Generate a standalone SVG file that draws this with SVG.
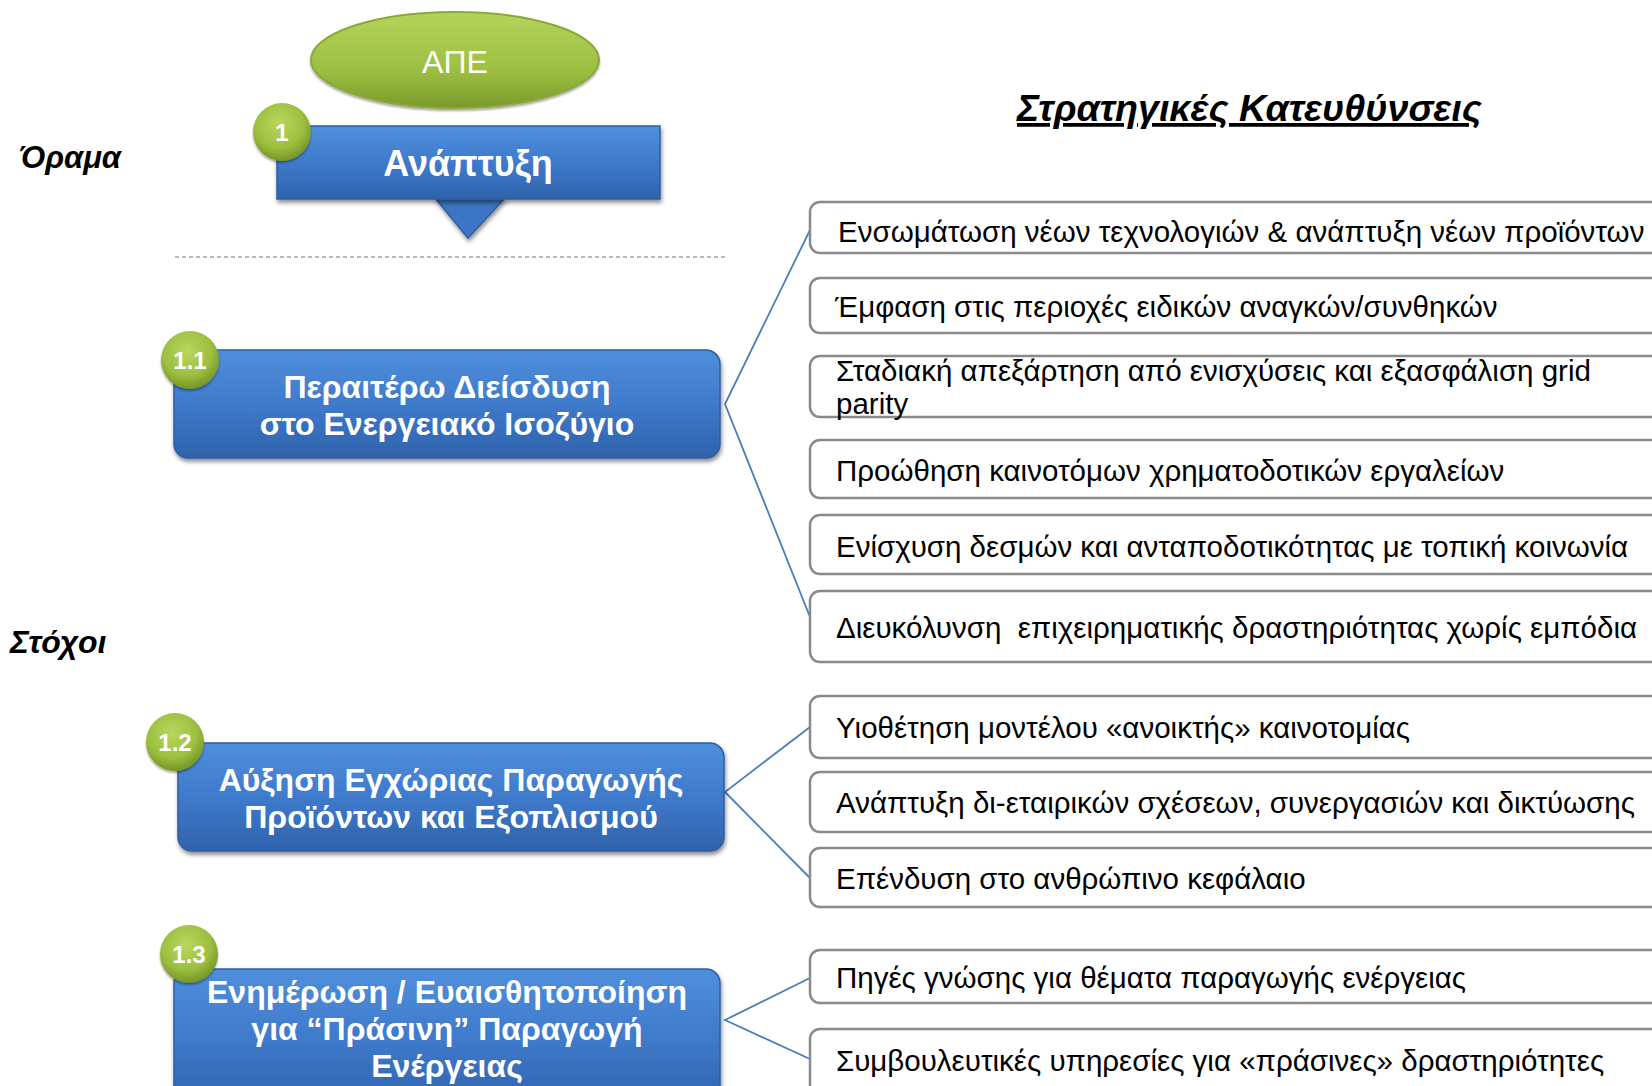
<svg xmlns="http://www.w3.org/2000/svg" width="1652" height="1086" viewBox="0 0 1652 1086">
<style>
.lbl{font-family:"Liberation Sans",Arial,sans-serif;font-weight:bold;font-style:italic;fill:#000}
.btxt{font-family:"Liberation Sans",Arial,sans-serif;font-weight:bold;fill:#fff;text-anchor:middle}
.num{font-family:"Liberation Sans",Arial,sans-serif;font-weight:bold;fill:#fff;font-size:24px;text-anchor:middle}
.rtxt{font-family:"Liberation Sans",Arial,sans-serif;font-size:29.5px;fill:#000}
.rbox{fill:#fff;stroke:#8a8a8a;stroke-width:2.5}
.conn{fill:none;stroke:#4a7ebb;stroke-width:1.8}
</style>
<defs>
<linearGradient id="blue" x1="0" y1="0" x2="0" y2="1">
<stop offset="0" stop-color="#4f8fdc"/>
<stop offset="0.5" stop-color="#3f7acb"/>
<stop offset="1" stop-color="#2f62ab"/>
</linearGradient>
<radialGradient id="green" cx="0.45" cy="0.35" r="0.7">
<stop offset="0" stop-color="#b9d65e"/>
<stop offset="0.6" stop-color="#9cbf3f"/>
<stop offset="1" stop-color="#6e8c22"/>
</radialGradient>
<linearGradient id="greenE" x1="0" y1="0" x2="0" y2="1">
<stop offset="0" stop-color="#b4d35a"/>
<stop offset="0.6" stop-color="#9cc042"/>
<stop offset="1" stop-color="#7a9a2a"/>
</linearGradient>
<filter id="sh" x="-10%" y="-10%" width="120%" height="130%">
<feDropShadow dx="1" dy="3" stdDeviation="2" flood-color="#000" flood-opacity="0.45"/>
</filter>
<filter id="sh2" x="-10%" y="-10%" width="120%" height="130%">
<feDropShadow dx="0" dy="2" stdDeviation="1" flood-color="#000" flood-opacity="0.35"/>
</filter>
</defs>

<text class="lbl" x="19" y="168" font-size="31">Όραμα</text>
<text class="lbl" x="10" y="653" font-size="32">Στόχοι</text>
<text class="lbl" x="1017" y="121" font-size="37.6" text-decoration="underline">Στρατηγικές Κατευθύνσεις</text>
<line x1="175" y1="257" x2="725" y2="257" stroke="#777" stroke-width="1.2" stroke-dasharray="4,3"/>

<g id="connectors">
<polyline class="conn" points="810,230 725,404 810,617"/>
<polyline class="conn" points="810,727 725,792 810,878"/>
<polyline class="conn" points="810,978 725,1020 810,1059"/>
</g>

<g id="ape">
<ellipse cx="455" cy="60" rx="144" ry="48" fill="url(#greenE)" stroke="#8aa83a" stroke-width="2" filter="url(#sh2)"/>
<text x="455" y="73" font-family="Liberation Sans, Arial, sans-serif" font-size="32" fill="#fff" text-anchor="middle">ΑΠΕ</text>
</g>

<g id="node1">
<polygon points="435,198 505,198 468,238" fill="#3a74c4" stroke="#2d5fa3" stroke-width="1.5" filter="url(#sh)"/>
<rect x="277" y="126" width="383" height="73" fill="url(#blue)" stroke="#2d5fa3" stroke-width="1.5" filter="url(#sh)"/>
<text class="btxt" x="468" y="176" font-size="36">Ανάπτυξη</text>
<circle cx="282" cy="132" r="29" fill="url(#green)" filter="url(#sh2)"/>
<text class="num" x="282" y="141">1</text>
</g>

<g id="node11">
<rect x="174" y="350" width="546" height="108" rx="14" fill="url(#blue)" stroke="#2d5fa3" stroke-width="1.5" filter="url(#sh)"/>
<text class="btxt" x="447" y="398" font-size="32">Περαιτέρω Διείσδυση</text>
<text class="btxt" x="447" y="435" font-size="32">στο Ενεργειακό Ισοζύγιο</text>
<circle cx="190" cy="360" r="29" fill="url(#green)" filter="url(#sh2)"/>
<text class="num" x="190" y="369">1.1</text>
</g>

<g id="node12">
<rect x="178" y="743" width="546" height="108" rx="14" fill="url(#blue)" stroke="#2d5fa3" stroke-width="1.5" filter="url(#sh)"/>
<text class="btxt" x="451" y="791" font-size="32">Αύξηση Εγχώριας Παραγωγής</text>
<text class="btxt" x="451" y="828" font-size="32">Προϊόντων και Εξοπλισμού</text>
<circle cx="175" cy="742" r="29" fill="url(#green)" filter="url(#sh2)"/>
<text class="num" x="175" y="751">1.2</text>
</g>

<g id="node13">
<rect x="174" y="969" width="546" height="140" rx="14" fill="url(#blue)" stroke="#2d5fa3" stroke-width="1.5" filter="url(#sh)"/>
<text class="btxt" x="447" y="1003" font-size="32">Ενημέρωση / Ευαισθητοποίηση</text>
<text class="btxt" x="447" y="1040" font-size="32">για “Πράσινη” Παραγωγή</text>
<text class="btxt" x="447" y="1077" font-size="32">Ενέργειας</text>
<circle cx="189" cy="954" r="29" fill="url(#green)" filter="url(#sh2)"/>
<text class="num" x="189" y="963">1.3</text>
</g>

<g id="s1"><rect class="rbox" x="810" y="202" width="900" height="51" rx="10"/><text class="rtxt" x="838" y="242">Ενσωμάτωση νέων τεχνολογιών &amp; ανάπτυξη νέων προϊόντων</text></g>
<g id="s2"><rect class="rbox" x="810" y="278" width="900" height="55" rx="10"/><text class="rtxt" x="835" y="317">Έμφαση στις περιοχές ειδικών αναγκών/συνθηκών</text></g>
<g id="s3"><rect class="rbox" x="810" y="356" width="900" height="61" rx="10"/><text class="rtxt" x="836" y="381">Σταδιακή απεξάρτηση από ενισχύσεις και εξασφάλιση grid</text><text class="rtxt" x="836" y="414">parity</text></g>
<g id="s4"><rect class="rbox" x="810" y="440" width="900" height="58" rx="10"/><text class="rtxt" x="836" y="481">Προώθηση καινοτόμων χρηματοδοτικών εργαλείων</text></g>
<g id="s5"><rect class="rbox" x="810" y="515" width="900" height="59" rx="10"/><text class="rtxt" x="836" y="557">Ενίσχυση δεσμών και ανταποδοτικότητας με τοπική κοινωνία</text></g>
<g id="s6"><rect class="rbox" x="810" y="591" width="900" height="71" rx="10"/><text class="rtxt" x="836" y="638" xml:space="preserve">Διευκόλυνση  επιχειρηματικής δραστηριότητας χωρίς εμπόδια</text></g>
<g id="s7"><rect class="rbox" x="810" y="696" width="900" height="62" rx="10"/><text class="rtxt" x="836" y="738">Υιοθέτηση μοντέλου «ανοικτής» καινοτομίας</text></g>
<g id="s8"><rect class="rbox" x="810" y="772" width="900" height="60" rx="10"/><text class="rtxt" x="836" y="813">Ανάπτυξη δι-εταιρικών σχέσεων, συνεργασιών και δικτύωσης</text></g>
<g id="s9"><rect class="rbox" x="810" y="848" width="900" height="59" rx="10"/><text class="rtxt" x="836" y="889">Επένδυση στο ανθρώπινο κεφάλαιο</text></g>
<g id="s10"><rect class="rbox" x="810" y="950" width="900" height="53" rx="10"/><text class="rtxt" x="836" y="988">Πηγές γνώσης για θέματα παραγωγής ενέργειας</text></g>
<g id="s11"><rect class="rbox" x="810" y="1029" width="900" height="80" rx="10"/><text class="rtxt" x="836" y="1071">Συμβουλευτικές υπηρεσίες για «πράσινες» δραστηριότητες</text></g>
</svg>
